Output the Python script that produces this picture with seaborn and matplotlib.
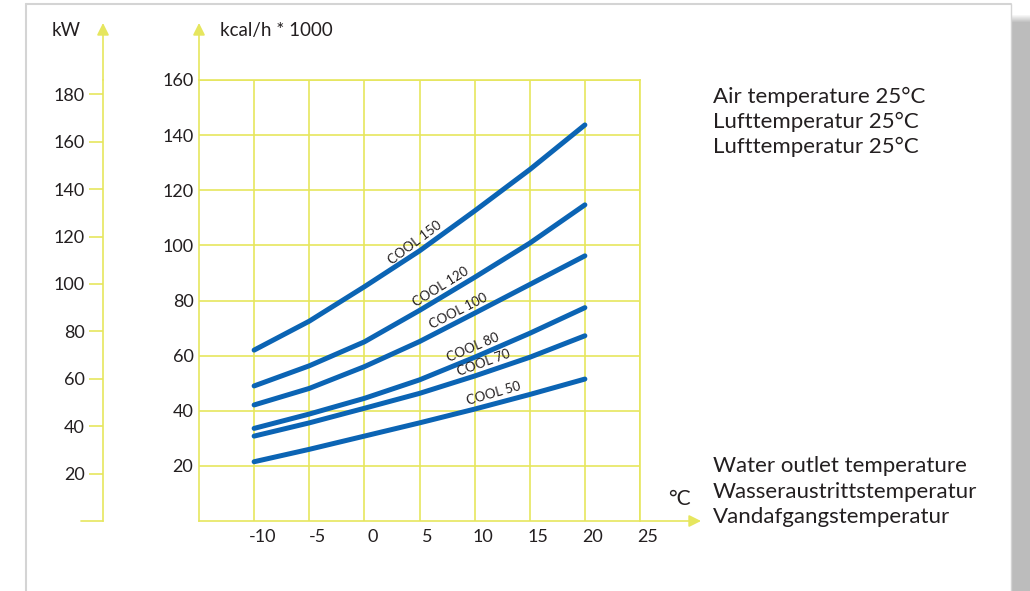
import numpy as np
import pandas as pd
import matplotlib
matplotlib.use('Agg')
import matplotlib.pyplot as plt
import matplotlib.transforms as mtransforms
from matplotlib.patches import Rectangle
from matplotlib.lines import Line2D
import seaborn as sns

# Data: water outlet temperature (C) vs capacity (kcal/h * 1000)
water_temp = [-10, -5, 0, 5, 10, 15, 20]
cool_150 = [62.0, 72.5, 85.0, 98.0, 112.5, 127.5, 143.7]
cool_120 = [49.0, 56.3, 65.0, 76.4, 88.4, 100.8, 114.7]
cool_100 = [42.1, 48.1, 56.0, 65.1, 75.4, 85.8, 96.2]
cool_80 = [33.6, 38.8, 44.5, 51.2, 59.4, 68.1, 77.4]
cool_70 = [30.8, 35.6, 40.9, 46.3, 52.6, 59.4, 67.2]
cool_50 = [21.5, 26.0, 30.8, 35.6, 40.6, 45.9, 51.5]
models = ['COOL 150', 'COOL 120', 'COOL 100', 'COOL 80', 'COOL 70', 'COOL 50']

# curve labels: (x, angle), sitting on top of each curve
label_pos = [(4.9, 37), (7.2, 32), (8.8, 27), (10.1, 23), (11.0, 20), (11.9, 16)]

x_ticks = [-10, -5, 0, 5, 10, 15, 20, 25]
kcal_ticks = [20, 40, 60, 80, 100, 120, 140, 160]
kw_ticks = [20, 40, 60, 80, 100, 120, 140, 160, 180]
KCAL_PER_KW = 0.86

air_text = ['Air temperature 25°C', 'Lufttemperatur 25°C', 'Lufttemperatur 25°C']
water_text = ['Water outlet temperature', 'Wasseraustrittstemperatur', 'Vandafgangstemperatur']

series = [cool_150, cool_120, cool_100, cool_80, cool_70, cool_50]
df = pd.concat([pd.DataFrame({'temp': water_temp, 'kcal': s, 'model': m})
                for m, s in zip(models, series)])

yellow = '#e6e65e'
blue = '#0b64b4'
dark = '#231f20'

sns.set_theme(style='white')
plt.rcParams['font.family'] = ['Lato', 'DejaVu Sans']
plt.rcParams['axes.unicode_minus'] = False

W, H = 1030, 591
fig = plt.figure(figsize=(W / 100, H / 100), dpi=100)
ax = fig.add_axes([199 / W, 70 / H, 441 / W, 441 / H])

sns.lineplot(data=df, x='temp', y='kcal', hue='model', palette=[blue] * 6,
             legend=False, lw=3.6, ax=ax, solid_capstyle='round', solid_joinstyle='round')

ax.set_xlim(-15, 25)
ax.set_ylim(0, 160)
ax.set_xticks(x_ticks)
ax.set_yticks(kcal_ticks)
ax.set_xticklabels([str(t) for t in x_ticks])
ax.grid(True, color=yellow, lw=1.2)
ax.set_axisbelow(True)
for sp in ax.spines.values():
    sp.set_color(yellow)
    sp.set_linewidth(1.2)
ax.tick_params(axis='both', length=0, labelsize=13, labelcolor=dark)
ax.tick_params(axis='x', pad=6)
ax.tick_params(axis='y', pad=4)
ax.set_xlabel('')
ax.set_ylabel('')
off = mtransforms.ScaledTranslation(8 / 100, 0, fig.dpi_scale_trans)
for lab in ax.get_xticklabels():
    lab.set_transform(lab.get_transform() + off)

lift = mtransforms.ScaledTranslation(0, 4 / 100, fig.dpi_scale_trans)
for m, s, (lx, ang) in zip(models, series, label_pos):
    ly = np.interp(lx, water_temp, s)
    ax.text(lx, ly, m, rotation=ang, rotation_mode='anchor', ha='center', va='bottom',
            fontsize=9.5, color=dark, transform=ax.transData + lift)

# kW axis
kw_loc = (103 - 199) / 441
sec = ax.secondary_yaxis(kw_loc, functions=(lambda v: v / KCAL_PER_KW, lambda v: v * KCAL_PER_KW))
sec.set_yticks(kw_ticks)
sec.tick_params(axis='y', length=10, width=1.2, color=yellow, labelsize=13,
                labelcolor=dark, pad=3)
for sp in sec.spines.values():
    sp.set_color(yellow)
    sp.set_linewidth(1.2)
ax.plot([(81 - 199) / 441, kw_loc], [0, 0], color=yellow, lw=1.2,
        transform=ax.transAxes, clip_on=False)

# arrows
top = (521 - 23) / 441
arrow = dict(arrowstyle='-|>,head_length=0.6,head_width=0.3', color=yellow, lw=1.2,
             mutation_scale=12, shrinkA=0, shrinkB=0)
ax.annotate('', xy=(0, top), xytext=(0, 1), xycoords='axes fraction', arrowprops=arrow,
            annotation_clip=False)
ax.annotate('', xy=(kw_loc, top), xytext=(kw_loc, 1), xycoords='axes fraction',
            arrowprops=arrow, annotation_clip=False)
ax.annotate('', xy=((701 - 199) / 441, 0), xytext=(1, 0), xycoords='axes fraction',
            arrowprops=arrow, annotation_clip=False)

# axis titles and side texts
fig.text(52 / W, 1 - 36 / H, 'kW', fontsize=13.5, color=dark, ha='left', va='baseline')
fig.text(220 / W, 1 - 36 / H, 'kcal/h * 1000', fontsize=13.5, color=dark, ha='left', va='baseline')
fig.text(668 / W, 1 - 505 / H, '°C', fontsize=15, color=dark, ha='left', va='baseline')
for i, t in enumerate(air_text):
    fig.text(713 / W, 1 - (103 + 25 * i) / H, t, fontsize=16, color=dark,
             ha='left', va='baseline')
for i, t in enumerate(water_text):
    fig.text(713 / W, 1 - (472 + 25.5 * i) / H, t, fontsize=16, color=dark,
             ha='left', va='baseline')

# page frame and shadow
frame = '#d4d4d4'
fig.add_artist(Line2D([26 / W, 26 / W], [0, 1 - 4 / H], color=frame, lw=1.5))
fig.add_artist(Line2D([26 / W, 1011 / W], [1 - 4 / H, 1 - 4 / H], color=frame, lw=1.5))
fig.add_artist(Line2D([1011 / W, 1011 / W], [0, 1 - 4 / H], color=frame, lw=1))
fig.add_artist(Rectangle((1012 / W, 0), 18 / W, 1 - 22 / H, transform=fig.transFigure,
                         color='#bcbcbc', lw=0))
for k in range(8):
    fig.add_artist(Rectangle((1012 / W, 1 - (22 - k) / H - 1 / H), 18 / W, 1 / H,
                             transform=fig.transFigure, color='#bcbcbc', alpha=1 - k / 8, lw=0))

fig.savefig('out.png', dpi=100)
